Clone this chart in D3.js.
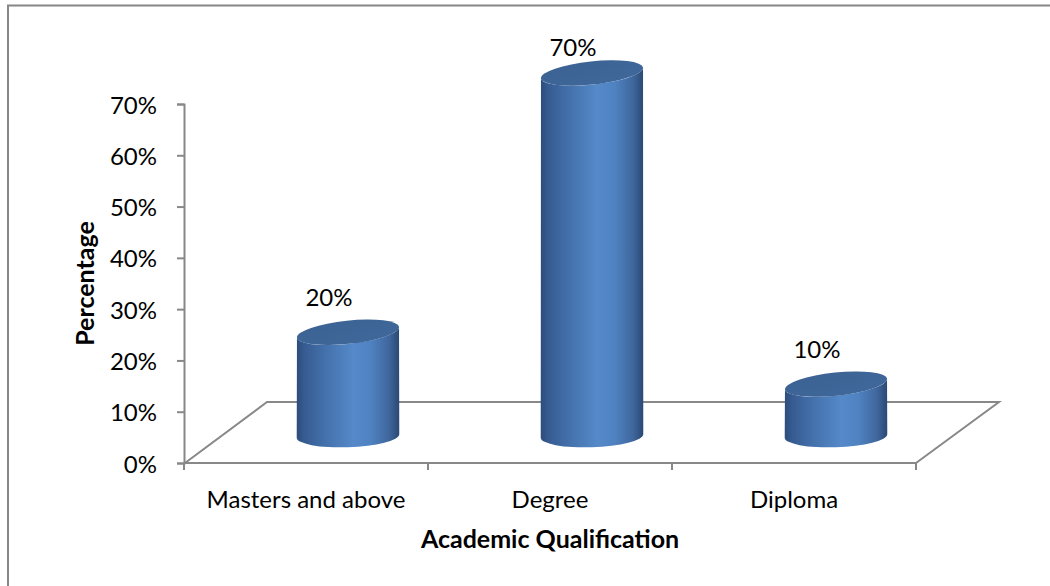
<!DOCTYPE html>
<html>
<head>
<meta charset="utf-8">
<script src="https://cdn.jsdelivr.net/npm/d3@7"></script>
<style>
  html, body { margin: 0; padding: 0; background: #fff; }
  svg { display: block; }
  text { font-family: Lato, "Open Sans", sans-serif; fill: #000; }
</style>
</head>
<body>
<svg id="chart" width="1050" height="586"></svg>
<script>
// Share of respondents by highest academic qualification
const categories = ["Masters and above", "Degree", "Diploma"];
const shares = [0.20, 0.70, 0.10];
const yTicks = [0, 0.1, 0.2, 0.3, 0.4, 0.5, 0.6, 0.7];
const xTitle = "Academic Qualification";
const yTitle = "Percentage";

const svg = d3.select("#chart");
const lineColor = "#888888";
const fontSize = 24;
const titleSize = 25;

// outer chart frame (runs off the right and bottom edges)
svg.append("rect")
  .attr("x", 8).attr("y", 5.5)
  .attr("width", 1100).attr("height", 700)
  .attr("fill", "none")
  .attr("stroke", "#868686")
  .attr("stroke-width", 2);

// scales: front edge of the floor and the value axis
const x = d3.scaleBand().domain(categories).range([184, 916]);
const y = d3.scaleLinear().domain([0, 0.7]).range([463, 104]);
// oblique depth of the floor
const depth = { dx: 83, dy: 61 };
// cylinders stand half way back on the floor
const yBar = d3.scaleLinear().domain([0, 0.7]).range([436, 73]);
const barShift = 42;

// gradients
const defs = svg.append("defs");
const body = defs.append("linearGradient").attr("id", "cylBody")
  .attr("x1", "0").attr("x2", "1").attr("y1", "0").attr("y2", "0");
[
  [0, "#2c4c7b"], [0.07, "#365b91"], [0.3, "#4573ae"], [0.55, "#5589c9"],
  [0.72, "#4f82c1"], [0.9, "#3f679d"], [1, "#2a4873"]
].forEach(([o, c]) => body.append("stop").attr("offset", o).attr("stop-color", c));
const cap = defs.append("linearGradient").attr("id", "cylTop")
  .attr("x1", "0").attr("x2", "1").attr("y1", "0").attr("y2", "1");
[[0, "#3b6293"], [1, "#40689a"]]
  .forEach(([o, c]) => cap.append("stop").attr("offset", o).attr("stop-color", c));

// floor outline
const [x0, x1] = x.range();
const y0 = y(0);
const floor = svg.append("g").attr("fill", "none")
  .attr("stroke", lineColor).attr("stroke-width", 2);
floor.append("path").attr("d", d3.line()([
  [x0 + 1, y0], [x0 + depth.dx, y0 - depth.dy], [x1 + depth.dx, y0 - depth.dy], [x1, y0]
]));

// value axis
const yAxis = svg.append("g")
  .attr("transform", `translate(${x0},0)`)
  .call(d3.axisLeft(y).tickValues(yTicks).tickFormat(d3.format(".0%"))
    .tickSize(7).tickSizeOuter(7).tickPadding(20));
yAxis.selectAll("path, line").attr("stroke", lineColor).attr("stroke-width", 2);
yAxis.selectAll("text")
  .attr("dy", "0.38em")
  .style("font-family", "Lato, 'Open Sans', sans-serif")
  .style("font-size", fontSize + "px")
  .attr("fill", "#000");

// category axis: front floor edge, ticks between categories, labels centred
const xAxis = svg.append("g").attr("transform", `translate(0,${y0})`);
xAxis.append("line").attr("x1", x0).attr("x2", x1)
  .attr("stroke", lineColor).attr("stroke-width", 2);
const edges = categories.map(c => x(c)).concat([x1]);
xAxis.selectAll("line.tick").data(edges).join("line")
  .attr("class", "tick")
  .attr("x1", d => d).attr("x2", d => d)
  .attr("y1", 0).attr("y2", 7)
  .attr("stroke", lineColor).attr("stroke-width", 2);
xAxis.selectAll("text.cat").data(categories).join("text")
  .attr("class", "cat")
  .attr("x", d => x(d) + x.bandwidth() / 2)
  .attr("y", 44.5)
  .attr("text-anchor", "middle")
  .style("font-size", fontSize + "px")
  .text(d => d);

// cylinders
function ellipseFrame(a, b, deg) {
  const r = deg * Math.PI / 180;
  const c = Math.cos(r), s = Math.sin(r);
  const sxx = a * a * c * c + b * b * s * s;
  const sxy = (a * a - b * b) * s * c;
  const w = Math.sqrt(sxx);
  return { w, off: sxy / w };
}
const rx = 51.3;
const topB = 11.6, topTilt = -6;
const botB = 11.2, botTilt = -2;
const topF = ellipseFrame(rx, topB, topTilt);
const botF = ellipseFrame(rx, botB, botTilt);

const bars = svg.append("g");
categories.forEach((cat, i) => {
  const v = shares[i];
  const cx = x(cat) + x.bandwidth() / 2 + barShift;
  const cyTop = yBar(v);
  const cyBot = yBar(0);
  const lt = [cx - topF.w, cyTop - topF.off];
  const rt = [cx + topF.w, cyTop + topF.off];
  const lb = [cx - botF.w, cyBot - botF.off];
  const rb = [cx + botF.w, cyBot + botF.off];
  const d = `M${lt[0]},${lt[1]} L${lb[0]},${lb[1]} ` +
    `A${rx},${botB} ${botTilt} 0 0 ${rb[0]},${rb[1]} ` +
    `L${rt[0]},${rt[1]} ` +
    `A${rx},${topB} ${topTilt} 0 1 ${lt[0]},${lt[1]} Z`;
  bars.append("path").attr("d", d).attr("fill", "url(#cylBody)");
  bars.append("ellipse")
    .attr("cx", 0).attr("cy", 0).attr("rx", rx).attr("ry", topB)
    .attr("transform", `translate(${cx},${cyTop}) rotate(${topTilt})`)
    .attr("fill", "url(#cylTop)");

  // value label above the cylinder, kept inside the plot area
  svg.append("text")
    .attr("x", cx - 19)
    .attr("y", Math.max(cyTop - 26.5, 56))
    .attr("text-anchor", "middle")
    .style("font-size", fontSize + "px")
    .text(d3.format(".0%")(v));
});

// axis titles
svg.append("text")
  .attr("x", (x0 + x1) / 2)
  .attr("y", 548)
  .attr("text-anchor", "middle")
  .style("font-size", titleSize + "px")
  .style("font-weight", "bold")
  .text(xTitle);
svg.append("text")
  .attr("transform", `translate(94,${(y(0) + y(0.7)) / 2}) rotate(-90)`)
  .attr("text-anchor", "middle")
  .style("font-size", titleSize + "px")
  .style("font-weight", "bold")
  .text(yTitle);
</script>
</body>
</html>
